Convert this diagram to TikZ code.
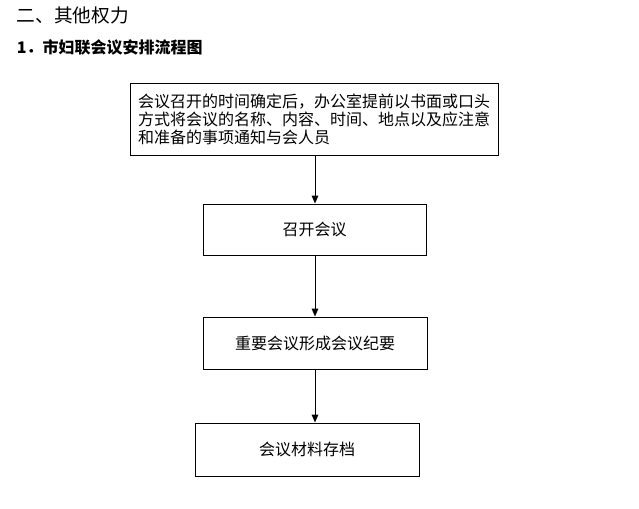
\documentclass[tikz,border=0pt]{standalone}
\usepackage{fontspec}
\setmainfont{Noto Sans CJK SC}
\usepackage{tikz}
\usetikzlibrary{arrows.meta,positioning}

\begin{document}
\begin{tikzpicture}[x=0.75pt,y=-0.75pt,line width=0.75pt,
    stepbox/.style={rectangle, draw, inner sep=0pt, font=\fontsize{12pt}{13.5pt}\selectfont},
    flow/.style={-{Triangle[width=5pt,length=6pt]}}]
        \useasboundingbox (0,0) rectangle (639,508);
        \node[anchor=west, font=\fontsize{14pt}{16pt}\selectfont] at (12,15) (title) {二、其他权力};
        \node[anchor=west, font=\bfseries\fontsize{12pt}{14pt}\selectfont] at (12,47) (subtitle) {1．市妇联会议安排流程图};
        \node[stepbox, minimum width=276pt, minimum height=54pt, align=left] at (314,119) (notice) {会议召开的时间确定后，办公室提前以书面或口头\\方式将会议的名称、内容、时间、地点以及应注意\\和准备的事项通知与会人员};
        \node[stepbox, minimum width=167.25pt, minimum height=38.25pt] at (314.5,229.5) (meet) {召开会议};
        \node[stepbox, minimum width=168pt, minimum height=39pt] at (315,343) (minutes) {重要会议形成会议纪要};
        \node[stepbox, minimum width=168pt, minimum height=39.75pt] at (307,449.5) (archive) {会议材料存档};
        \draw[flow] (notice.south -| minutes) -- (minutes |- meet.north);
        \draw[flow] (meet.south -| minutes) -- (minutes);
        \draw[flow] (minutes) -- (minutes |- archive.north);
      \end{tikzpicture}
\end{document}
